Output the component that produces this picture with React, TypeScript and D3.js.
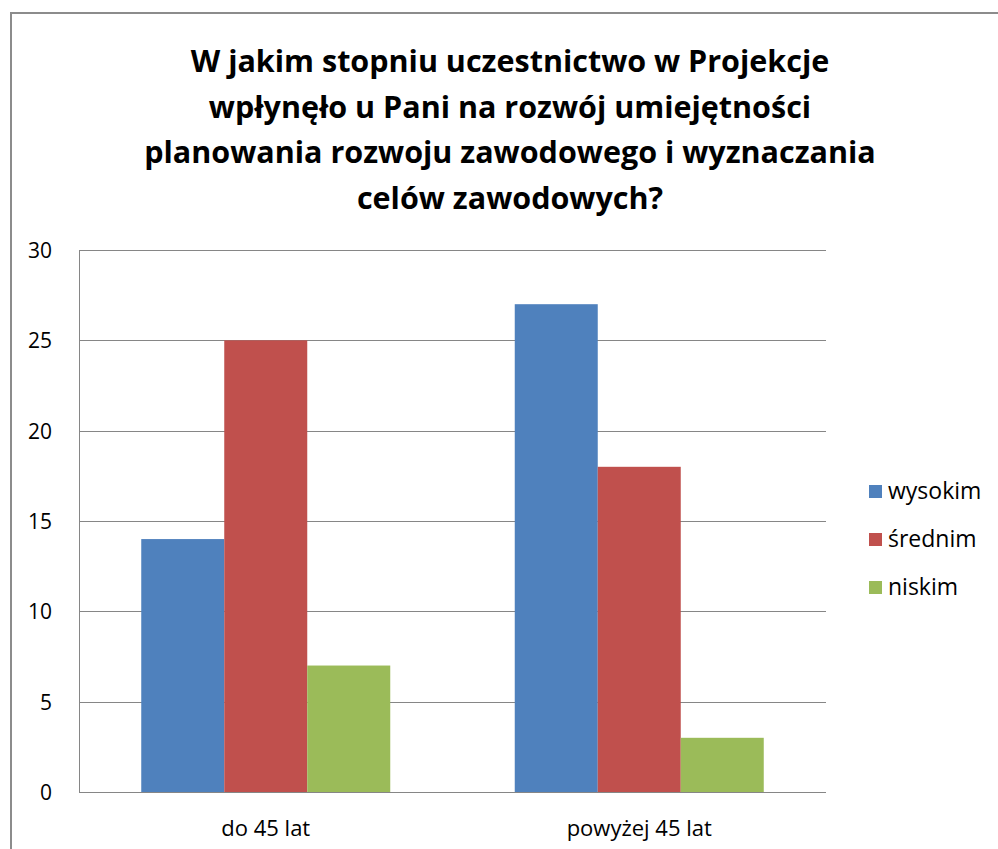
import React from 'react';
import * as d3 from 'd3';

const titleLines = [
  'W jakim stopniu uczestnictwo w Projekcje',
  'wpłynęło u Pani  na rozwój umiejętności',
  'planowania rozwoju zawodowego i wyznaczania',
  'celów zawodowych?',
];
const categories = ['do 45 lat', 'powyżej 45 lat'];
const seriesNames = ['wysokim', 'średnim', 'niskim'];
const seriesColors = ['#4f81bd', '#c0504d', '#9bbb59'];
const wysokim = [14, 27];
const srednim = [25, 18];
const niskim = [7, 3];
const yTicks = [0, 5, 10, 15, 20, 25, 30];

const seriesValues = [wysokim, srednim, niskim];
const FONT = "'Open Sans', 'DejaVu Sans', sans-serif";

const W = 998;
const H = 849;
const plot = { left: 79, right: 826, top: 250, bottom: 792 };

export default function App() {
  const x0 = d3.scaleBand().domain(categories).range([plot.left, plot.right]).paddingInner(0).paddingOuter(0);
  const x1 = d3.scaleBand().domain(seriesNames).range([0, x0.bandwidth()]).paddingInner(0).paddingOuter(0.75);
  const y = d3.scaleLinear().domain([0, 30]).range([plot.bottom, plot.top]);

  return (
    <svg width={W} height={H} style={{ position: 'absolute', left: 0, top: 0, background: '#fff' }}>
      <rect x={11} y={13} width={W} height={H} fill="#fff" stroke="#8c8c8c" strokeWidth={2} />
      {titleLines.map((t, i) => (
        <text key={i} x={510} y={72 + i * 45.5} textAnchor="middle" fontFamily={FONT} fontWeight="bold" fontSize={30.5} fill="#000">
          {t}
        </text>
      ))}
      {yTicks.map(t => (
        <g key={t}>
          <line x1={plot.left} x2={plot.right} y1={Math.round(y(t)) + 0.5} y2={Math.round(y(t)) + 0.5} stroke="#868686" strokeWidth={1} />
          <text x={52} y={y(t) + 8} textAnchor="end" fontFamily={FONT} fontSize={21} fill="#000">{t}</text>
        </g>
      ))}
      <line x1={plot.left + 0.5} x2={plot.left + 0.5} y1={plot.top} y2={plot.bottom} stroke="#868686" strokeWidth={1} />
      {categories.map((c, ci) => (
        <g key={c} transform={`translate(${x0(c)},0)`}>
          {seriesNames.map((s, si) => {
            const v = seriesValues[si][ci];
            return (
              <rect key={s} x={x1(s)} y={y(v)} width={x1.bandwidth()} height={y(0) - y(v)} fill={seriesColors[si]} />
            );
          })}
          <text x={x0.bandwidth() / 2} y={836} textAnchor="middle" fontFamily={FONT} fontSize={22} fill="#000">{c}</text>
        </g>
      ))}
      {seriesNames.map((s, i) => (
        <g key={s} transform={`translate(869,${485 + i * 48})`}>
          <rect x={0} y={0} width={13} height={13} fill={seriesColors[i]} />
          <text x={19} y={14} fontFamily={FONT} fontSize={23} fill="#000">{s}</text>
        </g>
      ))}
    </svg>
  );
}
